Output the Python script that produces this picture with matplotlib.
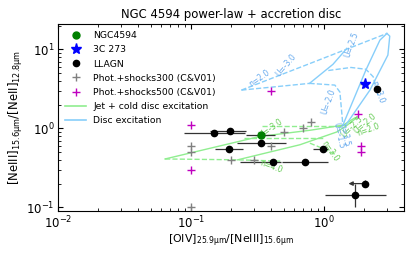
import numpy as np
import matplotlib.pyplot as plt

# observed ratios: [OIV]/[NeIII] (x) and [NeIII]/[NeII] (y)
ngc_x, ngc_y = [0.336], [0.83]
ngc_xlo, ngc_xhi = [0.262], [0.428]

q3c_x, q3c_y = [2.03], [3.64]

llagn_x = [0.150, 0.198, 0.338, 0.194, 0.416, 0.72, 0.99, 1.71, 2.53]
llagn_y = [0.88, 0.92, 0.66, 0.55, 0.38, 0.37, 0.55, 0.142, 3.17]
llagn_xlo = [0.089, 0.14, 0.223, 0.151, 0.233, 0.481, 0.83, 1.02, 2.53]
llagn_xhi = [0.255, 0.26, 0.517, 0.247, 0.475, 1.08, 1.07, 2.92, 2.53]
llagn_ylo = [0.88, 0.92, 0.60, 0.55, 0.38, 0.37, 0.50, 0.10, 3.17]
llagn_yhi = [0.88, 0.92, 0.72, 0.55, 0.38, 0.37, 0.60, 0.20, 3.17]

# upper limit on x
lim_x, lim_y, lim_head = 2.05, 0.20, 1.46

shock300_x = [0.1, 0.1, 0.1, 0.2, 0.3, 0.4, 0.5, 0.7, 0.8, 2.0]
shock300_y = [0.1, 0.5, 0.6, 0.4, 0.4, 0.6, 0.9, 1.0, 1.2, 3.6]
shock500_x = [0.1, 0.1, 0.4, 1.8, 1.9, 1.9]
shock500_y = [0.3, 1.1, 3.0, 1.5, 0.6, 0.5]

# disc excitation grid (blue)
disc_solid = [
    ([0.78, 1.17, 1.49], [3.71, 6.46, 10.3]),
    ([1.39, 2.07, 2.64, 2.98], [1.10, 5.47, 13.1, 15.9]),
    ([1.46, 2.22, 3.03, 3.13, 2.98], [1.10, 3.05, 8.47, 14.7, 15.9]),
]
disc_dash = [
    ([0.24, 0.8, 2.98], [3.05, 6.7, 15.9]),
    ([0.24, 0.78], [3.05, 3.71]),
    ([1.08, 1.6, 2.07, 2.35, 2.55], [5.4, 5.9, 5.6, 4.5, 2.64]),
    ([0.78, 1.21, 1.32, 1.39], [3.71, 3.53, 2.88, 1.10]),
]
disc_labels = [
    ("n=2.0", 0.33, 4.3, 35), ("U=-3.0", 0.52, 6.3, 50), ("U=-2.5", 1.62, 11.5, 70),
    ("U=-2.0", 1.08, 2.2, 70), ("n=3.0", 2.55, 2.9, -70),
    ("U=-1.5", 1.30, 0.82, -78), ("n=3.5", 1.43, 0.82, -78),
]

# jet + cold disc grid (green)
jet_solid = [
    ([0.064, 0.33, 0.8, 1.4, 1.7], [0.41, 0.79, 0.95, 1.1, 1.35]),
    ([0.225, 0.66, 1.25, 1.5, 1.8], [0.40, 0.62, 0.9, 1.1, 1.4]),
]
jet_dash = [
    ([0.064, 0.225, 0.47], [0.41, 0.40, 0.385]),
    ([0.34, 1.39], [1.07, 1.07]),
    ([0.25, 1.0], [0.76, 0.76]),
    ([0.785, 1.0, 1.25], [0.65, 0.55, 0.46]),
]
jet_labels = [
    ("U=-3.0", 0.40, 1.0, 35), ("n=4.0", 0.40, 0.33, -20), ("U=-2.5", 1.62, 1.05, 45),
    ("U=-2.0", 2.05, 1.15, 40), ("n=2.0", 2.15, 0.95, 20), ("n=3.0", 1.12, 0.52, -55),
]

green_line = '#90ee90'
blue_line = '#87cefa'

fig = plt.figure(figsize=(4.16, 2.57), dpi=100)
ax = fig.add_axes([0.139, 0.179, 0.832, 0.728])

for xs, ys in jet_solid:
    ax.plot(xs, ys, color=green_line, lw=1)
for xs, ys in jet_dash:
    ax.plot(xs, ys, color=green_line, lw=1, ls='--')
for xs, ys in disc_solid:
    ax.plot(xs, ys, color=blue_line, lw=1)
for xs, ys in disc_dash:
    ax.plot(xs, ys, color=blue_line, lw=1, ls='--')
for t, x, y, r in jet_labels:
    ax.text(x, y, t, color='#66cc55', fontsize=5.5, rotation=r, ha='center', va='center')
for t, x, y, r in disc_labels:
    ax.text(x, y, t, color='#66aaee', fontsize=5.5, rotation=r, ha='center', va='center')

# error bars
lx = np.array(llagn_x); ly = np.array(llagn_y)
ax.errorbar(lx, ly, xerr=[lx - np.array(llagn_xlo), np.array(llagn_xhi) - lx],
            yerr=[ly - np.array(llagn_ylo), np.array(llagn_yhi) - ly],
            fmt='none', ecolor='#333333', elinewidth=0.9)
nx = np.array(ngc_x)
ax.errorbar(nx, ngc_y, xerr=[nx - np.array(ngc_xlo), np.array(ngc_xhi) - nx],
            fmt='none', ecolor='#333333', elinewidth=0.9)
ax.errorbar([lim_x], [lim_y], yerr=[[0.02], [0.02]], fmt='none', ecolor='#333333', elinewidth=0.9)
ax.annotate('', xy=(lim_head, lim_y), xytext=(lim_x, lim_y),
            arrowprops=dict(arrowstyle='-|>', color='#333333', lw=0.9, mutation_scale=6))

ax.plot(ngc_x, ngc_y, 'o', color='green', ms=5, label='NGC4594', zorder=5)
ax.plot(q3c_x, q3c_y, '*', color='blue', ms=8, label='3C 273', zorder=5)
ax.plot(llagn_x + [lim_x], llagn_y + [lim_y], 'o', color='k', ms=4.5, label='LLAGN', zorder=4)
ax.plot(shock300_x, shock300_y, '+', color='gray', ms=6, mew=1, label='Phot.+shocks300 (C&V01)')
ax.plot(shock500_x, shock500_y, '+', color='m', ms=6, mew=1, label='Phot.+shocks500 (C&V01)')
ax.plot([], [], color=green_line, lw=1.2, label='Jet + cold disc excitation')
ax.plot([], [], color=blue_line, lw=1.2, label='Disc excitation')

ax.set_xscale('log')
ax.set_yscale('log')
ax.set_xlim(0.01, 4.0)
ax.set_ylim(0.09, 21)
ax.tick_params(which='both', direction='in', top=True, right=True, labelsize=8.5, pad=2.5)
ax.set_title('NGC 4594 power-law + accretion disc', fontsize=8.4, pad=4)
ax.set_xlabel(r'[OIV]$_{\mathrm{25.9\mu m}}$/[NeIII]$_{\mathrm{15.6\mu m}}$', fontsize=7.9, labelpad=1)
ax.set_ylabel(r'[NeIII]$_{\mathrm{15.6\mu m}}$/[NeII]$_{\mathrm{12.8\mu m}}$', fontsize=8.4, labelpad=1)
ax.legend(loc='upper left', frameon=False, fontsize=6.7, labelspacing=0.55,
          handlelength=2.2, borderaxespad=0.4)

fig.savefig('out.png', dpi=100)
